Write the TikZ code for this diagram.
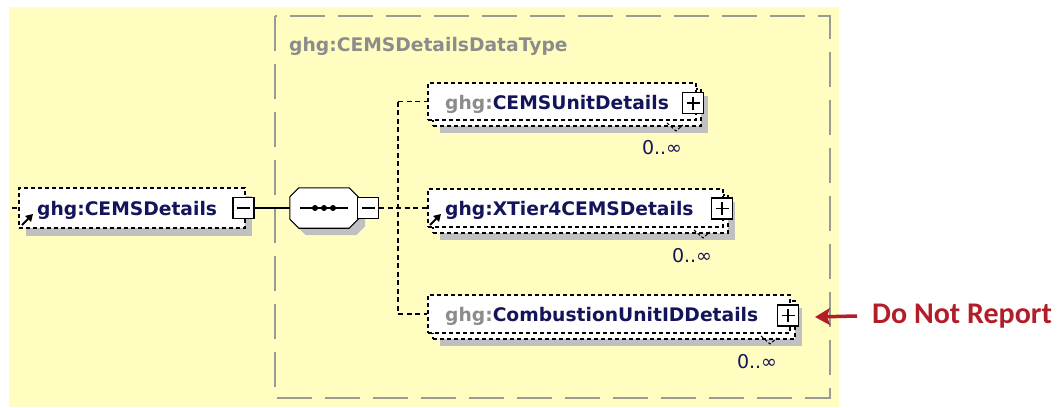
\documentclass[tikz,border=0pt]{standalone}
\usepackage{fontspec}
\setmainfont{DejaVu Sans}
\newfontfamily\notefont{Carlito}
\usepackage{tikz}
\usetikzlibrary{arrows.meta}

\definecolor{bgyellow}{RGB}{255,253,192}
\definecolor{framegray}{RGB}{155,155,150}
\definecolor{prefixgray}{RGB}{140,140,140}
\definecolor{namenavy}{RGB}{20,20,90}
\definecolor{shadowgray}{RGB}{192,192,192}
\definecolor{notered}{RGB}{178,30,40}

\tikzset{
  typeframe/.style={draw=framegray, line width=2pt, dash pattern=on 35pt off 13pt},
  typetext/.style={font=\bfseries\fontsize{18.7}{22}\selectfont, text=prefixgray, inner sep=0pt},
  nametext/.style={font=\bfseries\fontsize{18.7}{22}\selectfont, text=namenavy, inner sep=0pt},
  multtext/.style={font=\fontsize{19}{22}\selectfont, text=namenavy, inner sep=0pt},
  notetext/.style={font=\notefont\bfseries\fontsize{30}{34}\selectfont, text=notered, inner sep=0pt},
  elembox/.style={draw, fill=white, line width=1.1pt, dash pattern=on 4pt off 3pt, inner sep=0pt},
  shadowbox/.style={fill=shadowgray, inner sep=0pt},
  seqbox/.style={minimum width=68pt, minimum height=40pt, inner sep=0pt},
  octagon/.style={line width=1.1pt, line join=miter},
  pmbox/.style={draw, fill=white, line width=1.2pt, minimum width=21pt, minimum height=21pt, inner sep=0pt},
  minusbox/.style={pmbox, path picture={
    \draw[line width=1.2pt] ([xshift=4pt]path picture bounding box.west) -- ([xshift=-4pt]path picture bounding box.east);}},
  plusbox/.style={pmbox, path picture={
    \draw[line width=1.2pt] ([xshift=4pt]path picture bounding box.west) -- ([xshift=-4pt]path picture bounding box.east);
    \draw[line width=1.2pt] ([yshift=-4pt]path picture bounding box.north) -- ([yshift=4pt]path picture bounding box.south);}},
  conn/.style={line width=1.2pt, dash pattern=on 5pt off 3.5pt},
  notch/.style={line width=1pt, dash pattern=on 3pt off 2pt},
  refarrow/.style={line width=1.8pt, -{Triangle[length=7pt,width=8pt]}},
  notearrow/.style={notered, line width=3.5pt, -{Stealth[length=15pt,width=17pt,inset=3pt]}}
}

\begin{document}
\begin{tikzpicture}[x=1pt,y=-1pt]
\useasboundingbox (0,0) rectangle (1060,407);
\fill[bgyellow] (9,7) rectangle (839,407);
\draw[typeframe] (275,16) rectangle (830,398);
\node[typetext, anchor=base west] (typename) at (289,51) {ghg:CEMSDetailsDataType};

% root element
\node[shadowbox, minimum width=226pt, minimum height=40pt] (rootshadow) at (139,216) {};
\node[elembox, minimum width=226pt, minimum height=40pt] (root) at (132,208) {};
\node[nametext, anchor=base west] (rootname) at (37,215) {ghg:CEMSDetails};
\node[minusbox] (rootpm) at (243.5,208) {};
\draw[refarrow] (22,225) -- (33,214);
\coordinate (rootin) at (12,208);
\draw[conn] (rootin) -- (root.west);

% sequence
\node[seqbox] (seqshadow) at (331,215) {};
\node[seqbox] (seq) at (324,208) {};
\fill[shadowgray] ([xshift=9pt]seqshadow.north west) -- ([xshift=-9pt]seqshadow.north east)
  -- ([yshift=-9pt]seqshadow.north east) -- ([yshift=9pt]seqshadow.south east)
  -- ([xshift=-9pt]seqshadow.south east) -- ([xshift=9pt]seqshadow.south west)
  -- ([yshift=9pt]seqshadow.south west) -- ([yshift=-9pt]seqshadow.north west) -- cycle;
\draw[octagon, fill=white] ([xshift=9pt]seq.north west) -- ([xshift=-9pt]seq.north east)
  -- ([yshift=-9pt]seq.north east) -- ([yshift=9pt]seq.south east)
  -- ([xshift=-9pt]seq.south east) -- ([xshift=9pt]seq.south west)
  -- ([yshift=9pt]seq.south west) -- ([yshift=-9pt]seq.north west) -- cycle;
\draw[line width=1.1pt] ([xshift=-24pt]seq.center) -- ([xshift=24pt]seq.center);
\foreach \dx in {-9,0,9}
  \fill ([xshift=\dx pt]seq.center) circle (3);
\node[minusbox] (seqpm) at (368,208) {};
\draw[line width=1.1pt] (rootpm) -- (seq);

% CEMSUnitDetails
\node[shadowbox, minimum width=268pt, minimum height=37pt] (unitshadow) at (574,114.5) {};
\node[elembox, minimum width=268pt, minimum height=37pt] (unitback) at (567,107.5) {};
\node[elembox, minimum width=268pt, minimum height=37pt] (unit) at (562,101.5) {};
\node[nametext, anchor=base west] (unitname) at (445,109) {\textcolor{prefixgray}{ghg:}CEMSUnitDetails};
\node[plusbox] (unitpm) at (693,103) {};
\draw[notch] (667,123) -- (676,131) -- (683,125);
\node[multtext] (unitmult) at (662,148) {0..∞};

% XTier4CEMSDetails
\node[shadowbox, minimum width=295pt, minimum height=38pt] (tiershadow) at (587.5,221) {};
\node[elembox, minimum width=295pt, minimum height=38pt] (tierback) at (580.5,214) {};
\node[elembox, minimum width=295pt, minimum height=38pt] (tier) at (575.5,208) {};
\node[nametext, anchor=base west] (tiername) at (445,215) {ghg:XTier4CEMSDetails};
\node[plusbox] (tierpm) at (722,208.5) {};
\draw[refarrow] (430,225) -- (441,214);
\draw[notch] (694,230) -- (703,238) -- (710,232);
\node[multtext] (tiermult) at (692,256) {0..∞};

% CombustionUnitIDDetails
\node[shadowbox, minimum width=362pt, minimum height=38pt] (combshadow) at (621,327) {};
\node[elembox, minimum width=362pt, minimum height=38pt] (combback) at (614,320) {};
\node[elembox, minimum width=362pt, minimum height=38pt] (comb) at (609,314) {};
\node[nametext, anchor=base west] (combname) at (445,321) {\textcolor{prefixgray}{ghg:}CombustionUnitIDDetails};
\node[plusbox] (combpm) at (788,315.5) {};
\draw[notch] (761,336) -- (770,344) -- (777,338);
\node[multtext] (combmult) at (757,362) {0..∞};

% branches
\coordinate (branchtop) at (398,101.5);
\coordinate (branchbot) at (398,314);
\draw[conn] (seqpm) -- (tier.west);
\draw[conn] (branchtop) -- (branchbot);
\draw[conn] (branchtop) -- (unit.west);
\draw[conn] (branchbot) -- (comb.west);

% note
\node[notetext, anchor=west] (note) at (872,316) {Do Not Report};
\coordinate (notetip) at (815,317);
\draw[notearrow] ([xshift=-15pt]note.west) -- (notetip);
\end{tikzpicture}
\end{document}
